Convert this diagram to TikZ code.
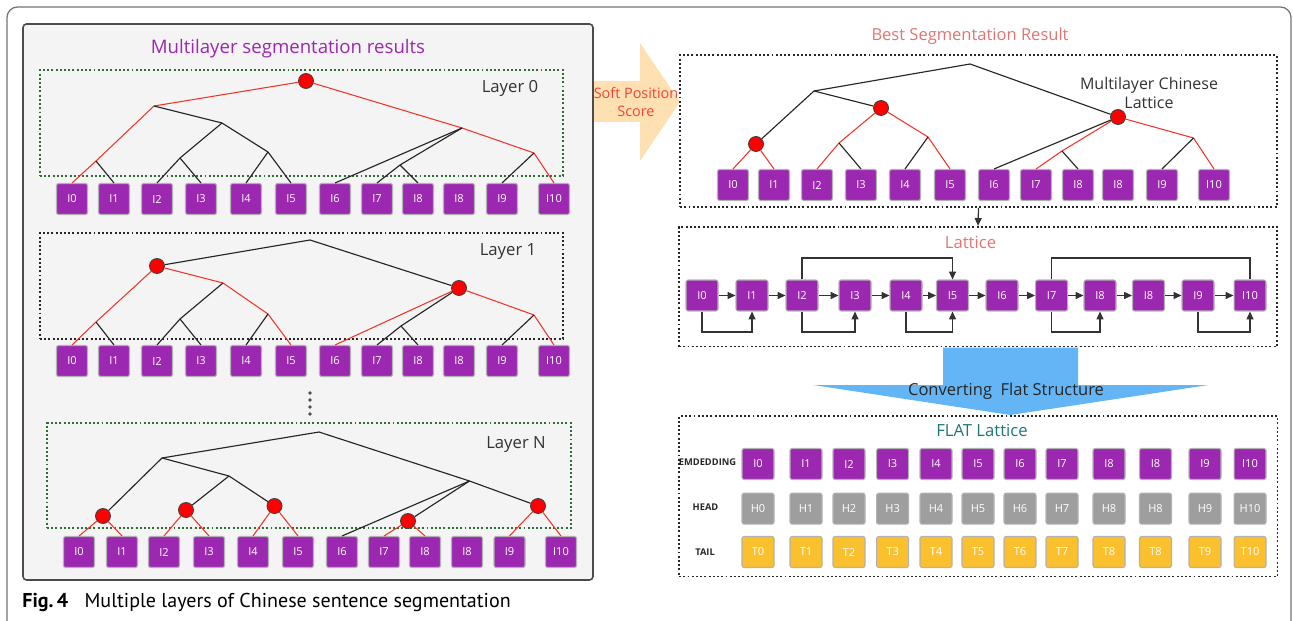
\documentclass[tikz,border=0pt]{standalone}
\usepackage{fontspec}
\setmainfont{Open Sans}
\newfontfamily\capfont{PT Sans}
\usetikzlibrary{arrows.meta}

\definecolor{tokPurple}{HTML}{9C27B0}
\definecolor{headGrey}{HTML}{9E9E9E}
\definecolor{tailAmber}{RGB}{251,192,45}
\definecolor{lineRed}{RGB}{242,52,40}
\definecolor{panelGrey}{HTML}{F4F4F4}
\definecolor{softPeach}{HTML}{FFE0B2}
\definecolor{softRed}{HTML}{F44336}
\definecolor{salmon}{HTML}{E57373}
\definecolor{flatTeal}{RGB}{28,118,120}
\definecolor{layerGreen}{RGB}{46,110,50}
\definecolor{convBlue}{HTML}{64B5F6}

\begin{document}
\begin{tikzpicture}
[x=0.02cm, y=-0.02cm,
  tokDecorate/.style={draw=black!30, line width=0.6pt, fill=tokPurple, rounded corners=1.2pt,
    minimum width=0.62cm, minimum height=0.62cm, inner sep=0pt, text=white,
    font=\fontsize{6.3}{7}\selectfont},
  latDecorate/.style={tokDecorate, minimum width=0.64cm},
  headDecorate/.style={latDecorate, fill=headGrey},
  tailDecorate/.style={latDecorate, fill=tailAmber},
  jointDecorate/.style={circle, fill=red, draw=black!75, line width=0.5pt, minimum size=0.3cm, inner sep=0pt},
  blackLine/.style={draw=black!85, line width=0.65pt},
  redLine/.style={draw=lineRed, line width=0.6pt},
  dotBox/.style={draw=black!85, line width=0.9pt, dash pattern=on 1.1pt off 1.3pt, inner sep=0pt},
  greenBox/.style={dotBox, draw=layerGreen},
  layerLabel/.style={text=black!80, font=\fontsize{9.5}{11}\selectfont},
  rowLabel/.style={text=black!85, font=\bfseries\fontsize{5.3}{6}\selectfont},
  latArrow/.style={draw=black!80, line width=0.7pt, -{Triangle[length=4.5pt,width=4pt]}}]
\useasboundingbox (0,0) rectangle (1293,621);

%% frame and left panel
\draw[black!55, line width=0.7pt, rounded corners=6pt] (7,7) rectangle (1291,632);
\draw[black!70, line width=0.9pt, fill=panelGrey, rounded corners=2pt] (23,24) rectangle (593,580);
\node[text=tokPurple, font=\fontsize{10.6}{12}\selectfont] (leftTitle) at (288,49) {Multilayer segmentation results};

%% dotted layer boxes
\node[greenBox, minimum width=10.46cm, minimum height=2.12cm] (layer0Box) at (301.5,123) {};
\node[dotBox, minimum width=10.46cm, minimum height=2.12cm] (layer1Box) at (301.5,286) {};
\node[greenBox, minimum width=10.48cm, minimum height=2.1cm] (layerNBox) at (309,475.5) {};
\node[layerLabel] (layer0Lab) at (510,88) {Layer 0};
\node[layerLabel] (layer1Lab) at (508,252) {Layer 1};
\node[layerLabel] (layerNLab) at (516,445) {Layer N};
\foreach \y in {393,400,407,414} {
  \fill[black!70] (310,\y) circle (1.1pt);
}

%% token rows of the left panel
\foreach \i/\n/\x in {0/0/72, 1/1/114, 2/2/157, 3/3/201, 4/4/246, 5/5/291,
    6/6/335, 7/7/377, 8/8/418, 9/8/459, 10/9/502, 11/10/554} {
  \node[tokDecorate] (a\i) at (\x,199) {I\n};
  \node[tokDecorate] (b\i) at (\x,361) {I\n};
}
\foreach \i/\n/\x in {0/0/79, 1/1/122, 2/2/164, 3/3/209, 4/4/253, 5/5/298,
    6/6/342, 7/7/384, 8/8/425, 9/8/467, 10/9/509.5, 11/10/561} {
  \node[tokDecorate] (c\i) at (\x,552) {I\n};
}

%% layer 0 tree
\node[jointDecorate] (aR) at (306,81) {};
\foreach \name/\x/\y in {aA/154/106, aAl/96/161, aB/222/123, aC/180/158,
    aD/268/152, aE/462/128, aF/400/165, aG/534/153} {
  \coordinate (\name) at (\x,\y);
}
\foreach \s/\e in {aR/aA, aA/aAl, aAl/a0.north, aR/aE, aE/aG, aG/a11.north} {
  \draw[redLine] (\s) -- (\e);
}
\foreach \s/\e in {aAl/a1.north, aA/aB, aB/aC, aC/a2.north, aC/a3.north, aB/aD,
    aD/a4.north, aD/a5.north, aE/a6.north, aE/aF, aF/a7.north, aF/a8.north, aG/a10.north} {
  \draw[blackLine] (\s) -- (\e);
}

%% layer 1 tree
\node[jointDecorate] (bP) at (157,266) {};
\node[jointDecorate] (bQ) at (459,288) {};
\foreach \name/\x/\y in {bT/310/240, bAl/96/322, bB/223/283, bC/180/319,
    bD/268/314, bF/401/326, bG/534/315} {
  \coordinate (\name) at (\x,\y);
}
\foreach \s/\e in {bP/bAl, bAl/b0.north, bP/bB, bB/bD, bD/b5.north, bQ/b6.north,
    bQ/bG, bG/b11.north} {
  \draw[redLine] (\s) -- (\e);
}
\foreach \s/\e in {bT/bP, bT/bQ, bAl/b1.north, bB/bC, bC/b2.north, bC/b3.north,
    bD/b4.north, bQ/bF, bF/b7.north, bF/b8.north, bG/b10.north} {
  \draw[blackLine] (\s) -- (\e);
}

%% layer N tree
\foreach \name/\x/\y in {cR0/103/516, cR1/186/510, cR2/274.5/506, cR3/408/521, cR4/538/506} {
  \node[jointDecorate] (\name) at (\x,\y) {};
}
\foreach \name/\x/\y in {cT/319/432, cA/162/458, cB/229/476, cE/469.5/481} {
  \coordinate (\name) at (\x,\y);
}
\foreach \s/\e in {cR0/c0.north, cR0/c1.north, cR1/c2.north, cR1/c3.north, cR2/c4.north,
    cR2/c5.north, cR3/c7.north, cR3/c8.north, cR4/c10.north, cR4/c11.north} {
  \draw[redLine] (\s) -- (\e);
}
\foreach \s/\e in {cT/cA, cT/cE, cA/cR0, cA/cB, cB/cR1, cB/cR2, cE/c6.north, cE/cR3, cE/cR4} {
  \draw[blackLine] (\s) -- (\e);
}

%% caption
\node[anchor=base west, font=\capfont\fontsize{11.4}{13}\selectfont, inner sep=0pt] (figCap) at (22,607)
  {\textbf{Fig.\,4}\hspace{0.55em} Multiple layers of Chinese sentence segmentation};

%% soft position score arrow
\fill[softPeach] (594,81) -- (640,81) -- (640,43) -- (680,102) -- (640,161) -- (640,122) -- (594,122) -- cycle;
\node[text=softRed, align=center, font=\fontsize{8.2}{9.8}\selectfont] (softLab) at (636,102) {Soft Position\\Score};

%% best segmentation result
\node[text=salmon, font=\fontsize{9.4}{11}\selectfont] (bestTitle) at (970,36) {Best Segmentation Result};
\node[dotBox, minimum width=11.94cm, minimum height=3.04cm] (bestBox) at (978.5,131) {};
\node[text=black!80, align=center, font=\fontsize{9.1}{10.8}\selectfont] (mclLab) at (1149,93) {Multilayer Chinese\\Lattice};
\foreach \i/\n/\x in {0/0/733, 1/1/774, 2/2/817, 3/3/861, 4/4/905, 5/5/950,
    6/6/994, 7/7/1036, 8/8/1078, 9/8/1118, 10/9/1162, 11/10/1214} {
  \node[tokDecorate] (d\i) at (\x,185) {I\n};
}
\foreach \name/\x/\y in {dQ/1118/117, dR0/756/144, dR1/881/108} {
  \node[jointDecorate] (\name) at (\x,\y) {};
}
\foreach \name/\x/\y in {dT/970/64, dA/814/91, dC/839/143, dD/928/137, dF/1062/151, dG/1193.5/138} {
  \coordinate (\name) at (\x,\y);
}
\foreach \s/\e in {dR0/d0.north, dR0/d1.north, dR1/dC, dC/d2.north, dR1/dD, dD/d5.north,
    dQ/dF, dF/d7.north, dQ/dG, dG/d11.north} {
  \draw[redLine] (\s) -- (\e);
}
\foreach \s/\e in {dT/dA, dT/dQ, dA/dR0, dA/dR1, dC/d3.north, dD/d4.north, dQ/d6.north,
    dF/d8.north, dG/d10.north} {
  \draw[blackLine] (\s) -- (\e);
}

%% lattice
\node[dotBox, minimum width=11.96cm, minimum height=2.4cm] (latBox) at (978,286.7) {};
\draw[latArrow] (bestBox.south) -- (latBox.north);
\node[text=salmon, font=\fontsize{9.5}{11}\selectfont] (latTitle) at (970.5,242) {Lattice};
\foreach \i/\n/\x in {0/0/702, 1/1/752, 2/2/802, 3/3/855, 4/4/906, 5/5/952.5,
    6/6/1002, 7/7/1051.6, 8/8/1100, 9/8/1148.5, 10/9/1198, 11/10/1250} {
  \node[latDecorate] (e\i) at (\x,295.5) {I\n};
}
\foreach \i [evaluate=\i as \j using int(\i+1)] in {0,...,10} {
  \draw[latArrow] (e\i.east) -- (e\j.west);
}
\coordinate (topLane) at (0,258);
\coordinate (lowLane) at (0,332);
\draw[latArrow] (e2.north) -- (e2.north |- topLane) -| (e5.north);
\draw[draw=black!80, line width=0.7pt] (e7.north) -- (e7.north |- topLane) -| (e11.north);
\foreach \s/\e in {e0/e1, e2/e3, e4/e5, e7/e8, e10/e11} {
  \draw[latArrow] (\s.south) -- (\s.south |- lowLane) -| (\e.south);
}

%% converting arrow
\fill[convBlue] (943,347.5) -- (1078,347.5) -- (1078,385) -- (1208.5,385) -- (1010.5,415)
  -- (813,385) -- (943,385) -- cycle;
\node[text=black!85, font=\fontsize{9.4}{10}\selectfont] (convLab) at (1006,391) {Converting\ \ Flat Structure};

%% flat lattice
\node[dotBox, minimum width=11.97cm, minimum height=3.21cm] (flatBox) at (978.3,496.3) {};
\node[text=flatTeal, font=\fontsize{9.5}{11}\selectfont] (flatTitle) at (982,430) {FLAT Lattice};
\node[rowLabel] (embLab) at (707.5,462.5) {EMDEDDING};
\node[rowLabel] (headLab) at (705.5,507) {HEAD};
\node[rowLabel] (tailLab) at (705,552.5) {TAIL};
\foreach \i/\n/\x in {0/0/758, 1/1/806, 2/2/849, 3/3/892.6, 4/4/936, 5/5/978,
    6/6/1020, 7/7/1062, 8/8/1109, 9/8/1155.5, 10/9/1205, 11/10/1250} {
  \node[latDecorate] (emb\i) at (\x,464) {I\n};
  \node[headDecorate] (head\i) at (\x,508.7) {H\n};
  \node[tailDecorate] (tail\i) at (\x,552) {T\n};
}
\end{tikzpicture}
\end{document}
